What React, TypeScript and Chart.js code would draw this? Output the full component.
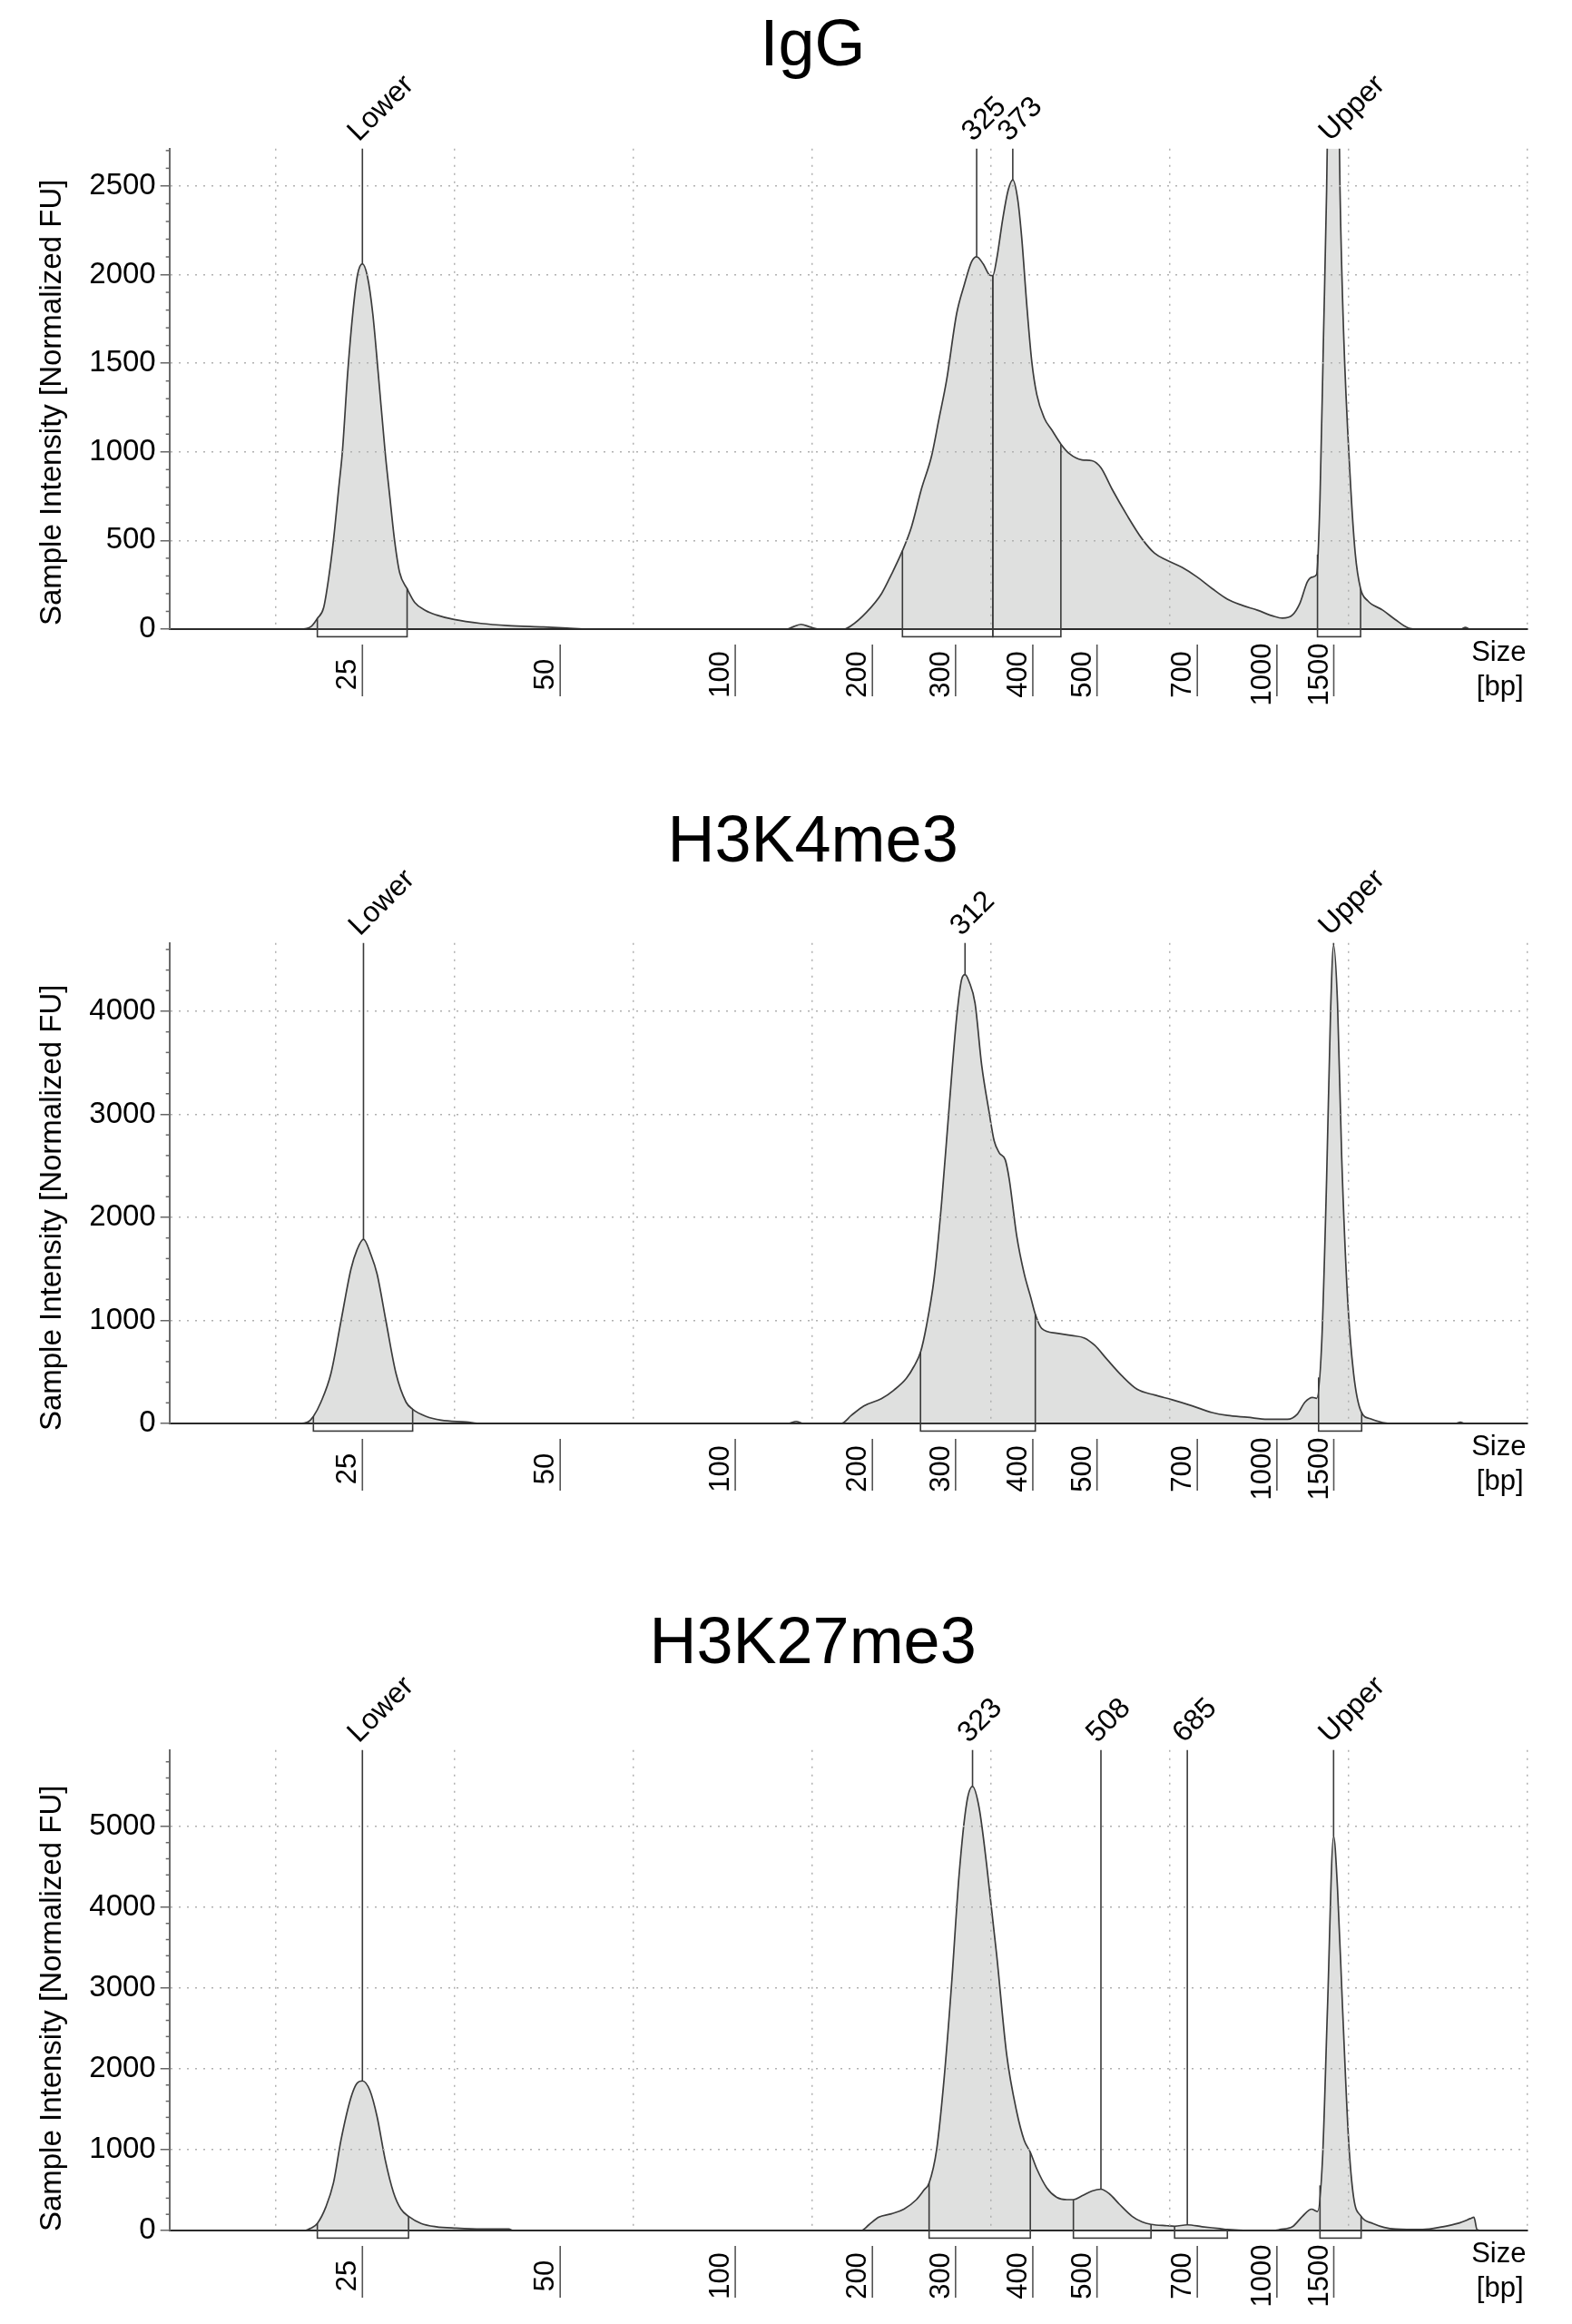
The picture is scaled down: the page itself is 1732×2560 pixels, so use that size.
import React, { useEffect, useRef } from 'react';
import { Chart, registerables } from 'chart.js';

Chart.register(...registerables);

const FONT = "'Liberation Sans', Arial, Helvetica, sans-serif";

// Size ladder: bp labels and the migration time they sit at
const LADDER_BP = [25, 50, 100, 200, 300, 400, 500, 700, 1000, 1500];
const LADDER_TIME = [44.87, 55.93, 65.72, 73.39, 78.04, 82.36, 85.95, 91.56, 96.01, 99.19];

// ---- IgG
const IGG_TIME = [
  34.08, 41.4, 42.0, 42.35, 42.7, 43.0, 43.25, 43.55, 43.75, 44.05, 44.35, 44.6, 44.87, 45.15, 45.45,
  45.75, 46.14, 46.4, 46.67, 46.95, 47.37, 47.8, 48.4, 49.0, 50.0, 51.5, 53.0, 55.0, 56.3, 57.5,
  68.6, 69.0, 69.4, 69.9, 70.4, 71.8, 72.2, 73.05, 73.9, 74.45, 75.07, 75.57, 76.13, 76.7, 77.1,
  77.54, 78.1, 78.52, 78.94, 79.22, 79.58, 79.92, 80.12, 80.34, 80.68, 80.98, 81.24, 81.52, 81.74,
  82.02, 82.3, 82.58, 83.0, 83.42, 83.93, 84.4, 85.11, 85.67, 86.17, 86.79, 87.63, 88.47, 89.17,
  89.87, 90.71, 91.55, 92.4, 93.24, 94.08, 94.92, 95.76, 96.32, 96.88, 97.3, 97.72, 98.0, 98.23,
  98.42, 98.62, 98.79, 99.0, 99.19, 99.38, 99.54, 99.74, 100.1, 100.39, 100.69, 101.09, 101.93,
  102.63, 103.33, 104.0, 106.3, 106.55, 106.8, 110,
];
const IGG_FU = [
  0, 0, 15, 60, 120, 300, 500, 800, 1000, 1450, 1800, 2000, 2061, 1990, 1780,
  1450, 1000, 750, 500, 320, 228, 150, 105, 80, 54, 32, 20, 12, 6, 0,
  0, 15, 27, 12, 0, 0, 19, 94, 200, 308, 442, 575, 790, 977, 1180,
  1405, 1780, 1940, 2074, 2101, 2061, 2000, 1994, 2088, 2315, 2476, 2535, 2422, 2208,
  1833, 1512, 1325, 1191, 1124, 1044, 990, 955, 950, 910, 790, 642, 509, 428,
  388, 348, 294, 228, 169, 134, 107, 75, 62, 80, 147, 268, 294, 308,
  736, 1673, 2476, 3900, 4500, 3700, 2476, 1673, 870, 428, 228, 160, 107,
  54, 8, 0, 0, 10, 0, 0,
];
const IGG_MARKER_TIME = [44.87, 79.22, 81.24, 99.19];
const IGG_MARKER_LABEL = ['Lower', '325', '373', 'Upper'];
const IGG_REGION_START = [42.35, 75.07, 80.12, 98.28];
const IGG_REGION_END = [47.37, 80.12, 83.93, 100.69];

// ---- H3K4me3
const K4_TIME = [
  34.08, 41.37, 41.8, 42.13, 42.55, 43.11, 43.67, 44.23, 44.56, 44.93, 45.35, 45.69, 46.19, 46.75,
  47.31, 47.68, 48.43, 49.27, 50.68, 51.5, 68.7, 69.13, 69.5, 71.65, 72.21, 72.91, 73.89, 74.59,
  75.29, 75.71, 76.08, 76.41, 76.84, 77.26, 77.68, 78.1, 78.38, 78.57, 78.8, 79.13, 79.5, 79.92,
  80.2, 80.48, 80.82, 81.04, 81.46, 81.88, 82.25, 82.5, 82.86, 83.7, 84.54, 85.25, 85.81, 86.51,
  87.35, 88.19, 89.17, 90.15, 91.27, 92.39, 93.24, 94.36, 95.48, 96.6, 97.16, 97.58, 98.0, 98.23,
  98.51, 98.79, 99.01, 99.18, 99.4, 99.63, 99.96, 100.3, 100.72, 101.23, 101.93, 102.5, 106.0,
  106.27, 106.5, 110,
];
const K4_FU = [
  0, 0, 12, 69, 207, 484, 991, 1498, 1682, 1788, 1636, 1452, 991, 484,
  207, 138, 69, 32, 14, 0, 0, 20, 0, 0, 78, 170, 240, 323,
  438, 553, 691, 945, 1406, 2143, 3065, 3940, 4309, 4355, 4286, 4078, 3479, 3018,
  2742, 2627, 2558, 2373, 1820, 1452, 1221, 1060, 922, 876, 853, 829, 760, 622,
  461, 332, 276, 230, 171, 106, 78, 60, 41, 41, 92, 207, 253, 244,
  760, 2373, 3986, 4640, 4078, 2604, 1221, 484, 115, 46, 9, 0, 0,
  12, 0, 0,
];
const K4_MARKER_TIME = [44.93, 78.57, 99.18];
const K4_MARKER_LABEL = ['Lower', '312', 'Upper'];
const K4_REGION_START = [42.13, 76.08, 98.34];
const K4_REGION_END = [47.68, 82.5, 100.75];

// ---- H3K27me3
const K27_TIME = [
  34.08, 41.65, 41.99, 42.35, 42.83, 43.25, 43.67, 44.23, 44.56, 44.87, 45.29, 45.69, 46.14, 46.61,
  47.03, 47.45, 48.15, 48.99, 50.12, 51.52, 53.06, 53.3, 72.77, 73.19, 73.75, 74.45, 75.15, 75.85,
  76.27, 76.56, 76.98, 77.4, 77.82, 78.24, 78.66, 78.99, 79.36, 79.78, 80.34, 80.9, 81.46, 81.88,
  82.22, 82.58, 83.14, 83.7, 84.26, 84.63, 85.11, 85.67, 86.17, 86.65, 87.21, 87.91, 88.47, 88.97,
  89.87, 90.29, 91.0, 91.83, 92.82, 93.24, 94.4, 95.8, 96.18, 96.88, 97.44, 97.95, 98.28, 98.56,
  98.84, 99.18, 99.4, 99.68, 100.02, 100.3, 100.72, 101.37, 102.63, 104.17, 105.29, 106.13, 106.83,
  107.03, 107.2, 107.5, 110,
];
const K27_FU = [
  0, 0, 29, 88, 294, 588, 1116, 1645, 1821, 1851, 1733, 1410, 881, 470,
  264, 176, 88, 47, 29, 18, 18, 0, 0, 70, 165, 206, 264, 382,
  499, 588, 999, 1880, 3055, 4407, 5288, 5494, 5229, 4524, 3408, 2174, 1469, 1116,
  969, 764, 529, 411, 382, 382, 429, 488, 511, 452, 323, 176, 106, 76,
  59, 53, 70, 47, 23, 12, 0, 0, 12, 47, 176, 264, 235, 881,
  2761, 4877, 4230, 2761, 1116, 411, 176, 88, 18, 12, 47, 88, 147,
  165, 12, 0, 0,
];
const K27_MARKER_TIME = [44.87, 78.99, 86.17, 91.0, 99.18];
const K27_MARKER_LABEL = ['Lower', '323', '508', '685', 'Upper'];
const K27_REGION_START = [42.35, 76.56, 84.63, 90.29, 98.42];
const K27_REGION_END = [47.45, 82.22, 88.97, 93.24, 100.72];

// ---- layout (page pixels)
const PAGE_W = 1732;
const PAGE_H = 2560;
const PANEL_H = 880;
const PANEL_TOP = [0, 874.8, 1763.5];
const TITLE_BASELINE = [72, 74, 68];
const Y_TITLE_SHIFT = [15, 27, 20];
const TITLE_X = 895.6;
const PLOT_LEFT = 186.7;
const PLOT_RIGHT = 1682.5;
const PLOT_TOP = 163.7;
const PLOT_BOTTOM = 693;
const Y_AXIS_W = 130;
const T_MIN = 34.08;
const T_MAX = 110;
const T_GRID = 10;

interface PanelSpec {
  title: string;
  time: number[];
  fu: number[];
  yMax: number;
  major: number;
  minor: number;
  markerTime: number[];
  markerLabel: string[];
  regionStart: number[];
  regionEnd: number[];
}

const PANELS: PanelSpec[] = [
  {
    title: 'IgG', time: IGG_TIME, fu: IGG_FU, yMax: 2711, major: 500, minor: 100,
    markerTime: IGG_MARKER_TIME, markerLabel: IGG_MARKER_LABEL,
    regionStart: IGG_REGION_START, regionEnd: IGG_REGION_END,
  },
  {
    title: 'H3K4me3', time: K4_TIME, fu: K4_FU, yMax: 4663, major: 1000, minor: 200,
    markerTime: K4_MARKER_TIME, markerLabel: K4_MARKER_LABEL,
    regionStart: K4_REGION_START, regionEnd: K4_REGION_END,
  },
  {
    title: 'H3K27me3', time: K27_TIME, fu: K27_FU, yMax: 5946, major: 1000, minor: 200,
    markerTime: K27_MARKER_TIME, markerLabel: K27_MARKER_LABEL,
    regionStart: K27_REGION_START, regionEnd: K27_REGION_END,
  },
];

// linear lookup of the trace at a given time
const valueAt = (time: number[], fu: number[], t: number) => {
  for (let i = 1; i < time.length; i++) {
    if (t <= time[i]) {
      const f = (t - time[i - 1]) / (time[i] - time[i - 1]);
      return fu[i - 1] + f * (fu[i] - fu[i - 1]);
    }
  }
  return 0;
};

// ticks at whole multiples of step inside [lo, hi]
const stepTicks = (lo: number, hi: number, step: number) => {
  const out: { value: number }[] = [];
  for (let v = Math.ceil(lo / step) * step; v <= hi + 1e-9; v += step) out.push({ value: v });
  return out;
};

const makeExtras = (spec: PanelSpec, index: number) => ({
  id: 'electropherogramExtras',
  afterDraw(chart: any) {
    const { ctx, chartArea } = chart;
    const xs = chart.scales.x;
    const ys = chart.scales.y;
    const y0 = ys.getPixelForValue(0);
    const seg = (x1: number, y1: number, x2: number, y2: number) => {
      ctx.beginPath();
      ctx.moveTo(x1, y1);
      ctx.lineTo(x2, y2);
      ctx.stroke();
    };
    ctx.save();

    // minor ticks on the intensity axis
    ctx.strokeStyle = '#666';
    ctx.lineWidth = 1.5;
    for (let v = spec.minor; v <= spec.yMax; v += spec.minor) {
      if (v % spec.major === 0) continue;
      const py = ys.getPixelForValue(v);
      seg(chartArea.left - 4, py, chartArea.left, py);
    }

    // integration regions
    ctx.strokeStyle = '#3a3a3a';
    ctx.lineWidth = 1.6;
    spec.regionStart.forEach((a, i) => {
      const b = spec.regionEnd[i];
      const xa = xs.getPixelForValue(a);
      const xb = xs.getPixelForValue(b);
      seg(xa, y0, xa, ys.getPixelForValue(valueAt(spec.time, spec.fu, a)));
      seg(xb, y0, xb, ys.getPixelForValue(valueAt(spec.time, spec.fu, b)));
      ctx.strokeRect(xa, y0, xb - xa, 8.4);
    });

    // peak markers
    ctx.fillStyle = '#000';
    ctx.font = `32px ${FONT}`;
    ctx.textAlign = 'left';
    ctx.textBaseline = 'alphabetic';
    spec.markerTime.forEach((t, i) => {
      const px = xs.getPixelForValue(t);
      const py = Math.max(ys.getPixelForValue(valueAt(spec.time, spec.fu, t)), chartArea.top);
      ctx.strokeStyle = '#3a3a3a';
      ctx.lineWidth = 1.6;
      if (py > chartArea.top) seg(px, py, px, chartArea.top);
      ctx.save();
      ctx.translate(px - 4, chartArea.top - 7);
      ctx.rotate(-Math.PI / 4);
      ctx.fillText(spec.markerLabel[i], 0, 0);
      ctx.restore();
    });

    // ladder size labels
    ctx.font = `31px ${FONT}`;
    ctx.textAlign = 'center';
    LADDER_BP.forEach((bp, i) => {
      const px = xs.getPixelForValue(LADDER_TIME[i]);
      ctx.strokeStyle = '#555';
      ctx.lineWidth = 1.6;
      seg(px, y0 + 17, px, y0 + 74);
      ctx.save();
      ctx.translate(px - 7, y0 + 50);
      ctx.rotate(-Math.PI / 2);
      ctx.fillText(String(bp), 0, 0);
      ctx.restore();
    });

    // axis captions
    ctx.textAlign = 'right';
    ctx.fillText('Size', chartArea.right - 1, y0 + 35);
    ctx.fillText('[bp]', chartArea.right - 4, y0 + 73);

    ctx.save();
    ctx.font = `33px ${FONT}`;
    ctx.textAlign = 'center';
    ctx.textBaseline = 'middle';
    ctx.translate(58, (chartArea.top + chartArea.bottom) / 2 + Y_TITLE_SHIFT[index]);
    ctx.rotate(-Math.PI / 2);
    ctx.fillText('Sample Intensity [Normalized FU]', 0, 0);
    ctx.restore();

    ctx.font = `72px ${FONT}`;
    ctx.textAlign = 'center';
    ctx.textBaseline = 'alphabetic';
    ctx.fillText(spec.title, TITLE_X, TITLE_BASELINE[index]);

    ctx.restore();
  },
});

const Panel: React.FC<{ spec: PanelSpec; index: number }> = ({ spec, index }) => {
  const canvasRef = useRef<HTMLCanvasElement>(null);

  useEffect(() => {
    if (!canvasRef.current) return;
    const points = spec.time.map((t, i) => ({ x: t, y: spec.fu[i] }));
    const chart = new Chart(canvasRef.current, {
      type: 'line',
      data: {
        datasets: [{
          data: points,
          borderColor: '#3c3c3c',
          borderWidth: 1.7,
          backgroundColor: '#dfe0df',
          fill: 'origin',
          pointRadius: 0,
          cubicInterpolationMode: 'monotone',
        }],
      },
      options: {
        responsive: false,
        animation: false,
        devicePixelRatio: 1,
        layout: {
          padding: {
            left: PLOT_LEFT - Y_AXIS_W,
            right: PAGE_W - PLOT_RIGHT,
            top: PLOT_TOP,
            bottom: PANEL_H - PLOT_BOTTOM,
          },
        },
        plugins: { legend: { display: false }, tooltip: { enabled: false } },
        scales: {
          x: {
            type: 'linear',
            min: T_MIN,
            max: T_MAX,
            afterFit: (s: any) => { s.height = 0; },
            afterBuildTicks: (s: any) => { s.ticks = stepTicks(T_MIN, T_MAX, T_GRID); },
            ticks: { display: false },
            grid: { color: '#b0b0b0', lineWidth: 1.5, drawTicks: false, z: 1 },
            border: { color: '#2a2a2a', width: 2, dash: [2, 7], z: 2 },
          },
          y: {
            type: 'linear',
            min: 0,
            max: spec.yMax,
            afterFit: (s: any) => { s.width = Y_AXIS_W; },
            afterBuildTicks: (s: any) => { s.ticks = stepTicks(0, spec.yMax, spec.major); },
            ticks: {
              autoSkip: false,
              padding: 5,
              color: '#000',
              font: { size: 33, family: FONT },
              callback: (v: any) => String(v),
            },
            grid: { color: '#b0b0b0', lineWidth: 1.5, tickLength: 10, tickColor: '#666', tickWidth: 1.5, z: 1 },
            border: { color: '#6a6a6a', width: 2, dash: [2, 7], z: 2 },
          },
        },
      } as any,
      plugins: [makeExtras(spec, index)],
    });
    return () => chart.destroy();
  }, [spec, index]);

  return <canvas ref={canvasRef} width={PAGE_W} height={PANEL_H} style={{ display: 'block', width: PAGE_W, height: PANEL_H }} />;
};

export default function App() {
  return (
    <div style={{ position: 'absolute', left: 0, top: 0, width: PAGE_W, height: PAGE_H, overflow: 'hidden', background: '#fff' }}>
      {PANELS.map((spec, i) => (
        <div key={spec.title} style={{ position: 'absolute', left: 0, top: PANEL_TOP[i], width: PAGE_W, height: PANEL_H }}>
          <Panel spec={spec} index={i} />
        </div>
      ))}
    </div>
  );
}
